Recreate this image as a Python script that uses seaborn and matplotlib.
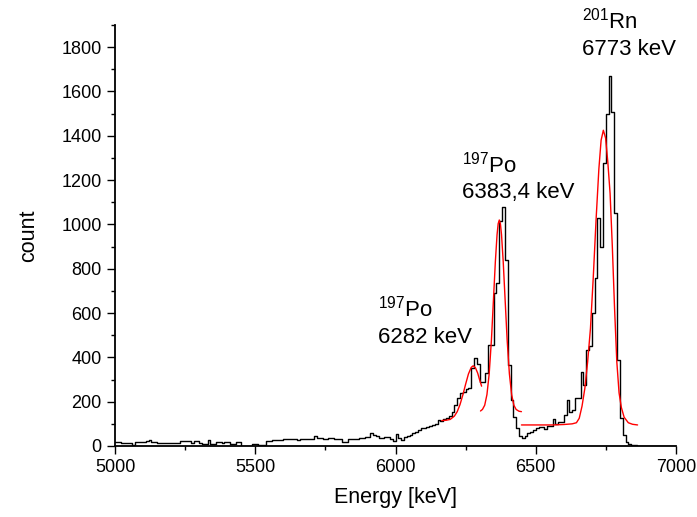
import numpy as np
import pandas as pd
import matplotlib
matplotlib.use("Agg")
import matplotlib.pyplot as plt
import seaborn as sns
from matplotlib.ticker import MultipleLocator

# histogram: 10 keV bins from 5000 to 7000 keV
bin_start = 5000
bin_width = 10
counts = [
    16, 16, 13, 13, 12, 12, 6, 16, 16, 19,          # 5000
    19, 22, 25, 18, 16, 15, 15, 14, 12, 12,         # 5100
    15, 15, 15, 21, 24, 24, 24, 13, 22, 22,         # 5200
    15, 7, 7, 25, 9, 9, 18, 18, 13, 18,             # 5300
    18, 9, 9, 18, 18, 1, 1, 1, 2, 9,                # 5400
    9, 4, 4, 5, 24, 24, 25, 25, 25, 27,             # 5500
    30, 30, 32, 33, 33, 27, 31, 31, 31, 31,         # 5600
    31, 45, 37, 37, 30, 30, 34, 34, 32, 30,         # 5700
    30, 19, 19, 31, 31, 31, 33, 34, 34, 39,         # 5800
    39, 57, 50, 45, 34, 34, 42, 42, 30, 22,         # 5900
    55, 35, 27, 42, 45, 50, 57, 65, 70, 80,         # 6000
    80, 87, 90, 95, 100, 117, 115, 120, 125, 135,   # 6100
    155, 185, 215, 237, 245, 255, 262, 350, 398, 368,  # 6200
    290, 290, 328, 455, 455, 689, 734, 1015, 1080, 839,  # 6300
    365, 207, 132, 83, 45, 38, 45, 57, 65, 72,      # 6400
    80, 87, 87, 75, 90, 90, 120, 99, 110, 110,      # 6500
    140, 207, 155, 162, 215, 215, 335, 275, 433, 451,  # 6600
    600, 760, 1027, 899, 1275, 1500, 1669, 1508, 1050, 388,  # 6700
    125, 50, 20, 8, 4, 3, 2, 2, 1, 1,               # 6800
    1, 1, 0, 1, 0, 1, 1, 0, 0, 0,                   # 6900
]

# fitted peaks (red)
fit1_energy = [6165, 6180, 6195, 6210, 6220, 6230, 6240, 6250, 6260, 6270,
               6277, 6285, 6293, 6300, 6307]
fit1_count = [115, 116, 120, 135, 155, 187, 230, 279, 325, 355,
              362, 353, 329, 298, 270]

fit2_energy = [6303, 6310, 6318, 6326, 6334, 6342, 6350, 6356, 6362, 6366,
               6370, 6374, 6378, 6384, 6390, 6398, 6406, 6414, 6422, 6430,
               6440, 6449]
fit2_count = [158, 165, 184, 232, 326, 479, 680, 832, 953, 1003,
              1020, 1003, 953, 832, 680, 479, 326, 232, 184, 165,
              157, 155]

fit3_energy = [6449, 6500, 6560, 6600, 6630, 6645, 6655, 6665, 6675, 6685,
               6695, 6705, 6715, 6725, 6733, 6741, 6749, 6757, 6765, 6773,
               6781, 6789, 6797, 6805, 6815, 6830, 6845, 6863]
fit3_count = [95, 95, 95, 97, 100, 105, 125, 180, 260, 380,
              530, 760, 1020, 1250, 1380, 1425, 1390, 1280, 1140, 900,
              620, 380, 240, 175, 130, 105, 98, 95]

# peak labels: mass number, element, energy text, left x, baselines
label_mass = ["197", "197", "201"]
label_elem = ["Po", "Po", "Rn"]
label_energy = ["6282 keV", "6383,4 keV", "6773 keV"]
label_x = [5938, 6237, 6665]
label_y_name = [583, 1233, 1885]
label_y_energy = [463, 1117, 1764]

sns.set_theme(style="ticks")
plt.rcParams["font.family"] = ["Liberation Sans", "DejaVu Sans"]
plt.rcParams["mathtext.fontset"] = "custom"
plt.rcParams["mathtext.rm"] = "Liberation Sans"
for key in ["text.color", "axes.labelcolor", "xtick.color", "ytick.color",
            "axes.edgecolor"]:
    plt.rcParams[key] = "black"

centers = [bin_start + bin_width * (i + 0.5) for i in range(len(counts))]
hist = pd.DataFrame({"energy": centers, "count": counts})

fig = plt.figure(figsize=(6.97, 5.17), dpi=100)
ax = fig.add_axes([115 / 697, 71 / 517, 561 / 697, 421 / 517])

sns.histplot(data=hist, x="energy", weights="count", binwidth=bin_width,
             binrange=(bin_start, bin_start + bin_width * len(counts)),
             element="step", fill=False, color="black", linewidth=1.0, ax=ax)

for e, c in [(fit1_energy, fit1_count), (fit2_energy, fit2_count),
             (fit3_energy, fit3_count)]:
    sns.lineplot(x=e, y=c, color="red", linewidth=1.0, sort=False, ax=ax)

ax.set_xlim(5000, 7000)
ax.set_ylim(0, 1900)
ax.xaxis.set_major_locator(MultipleLocator(500))
ax.xaxis.set_minor_locator(MultipleLocator(250))
ax.yaxis.set_major_locator(MultipleLocator(200))
ax.yaxis.set_minor_locator(MultipleLocator(100))
ax.tick_params(which="major", length=6, width=1, labelsize=13, color="black")
ax.tick_params(which="minor", length=3, width=1, color="black")
for s in ["left", "bottom"]:
    ax.spines[s].set_linewidth(1.3)
    ax.spines[s].set_color("black")
sns.despine(ax=ax)

ax.set_xlabel("Energy [keV]", fontsize=15.5, labelpad=8)
ax.set_ylabel("count", fontsize=15.5, labelpad=16)

for i in range(len(label_mass)):
    ax.text(label_x[i], label_y_name[i],
            r"$\mathregular{^{%s}}$%s" % (label_mass[i], label_elem[i]),
            fontsize=16, ha="left", va="baseline", clip_on=False)
    ax.text(label_x[i], label_y_energy[i], label_energy[i],
            fontsize=16, ha="left", va="baseline", clip_on=False)

fig.savefig("out.png", dpi=100)
